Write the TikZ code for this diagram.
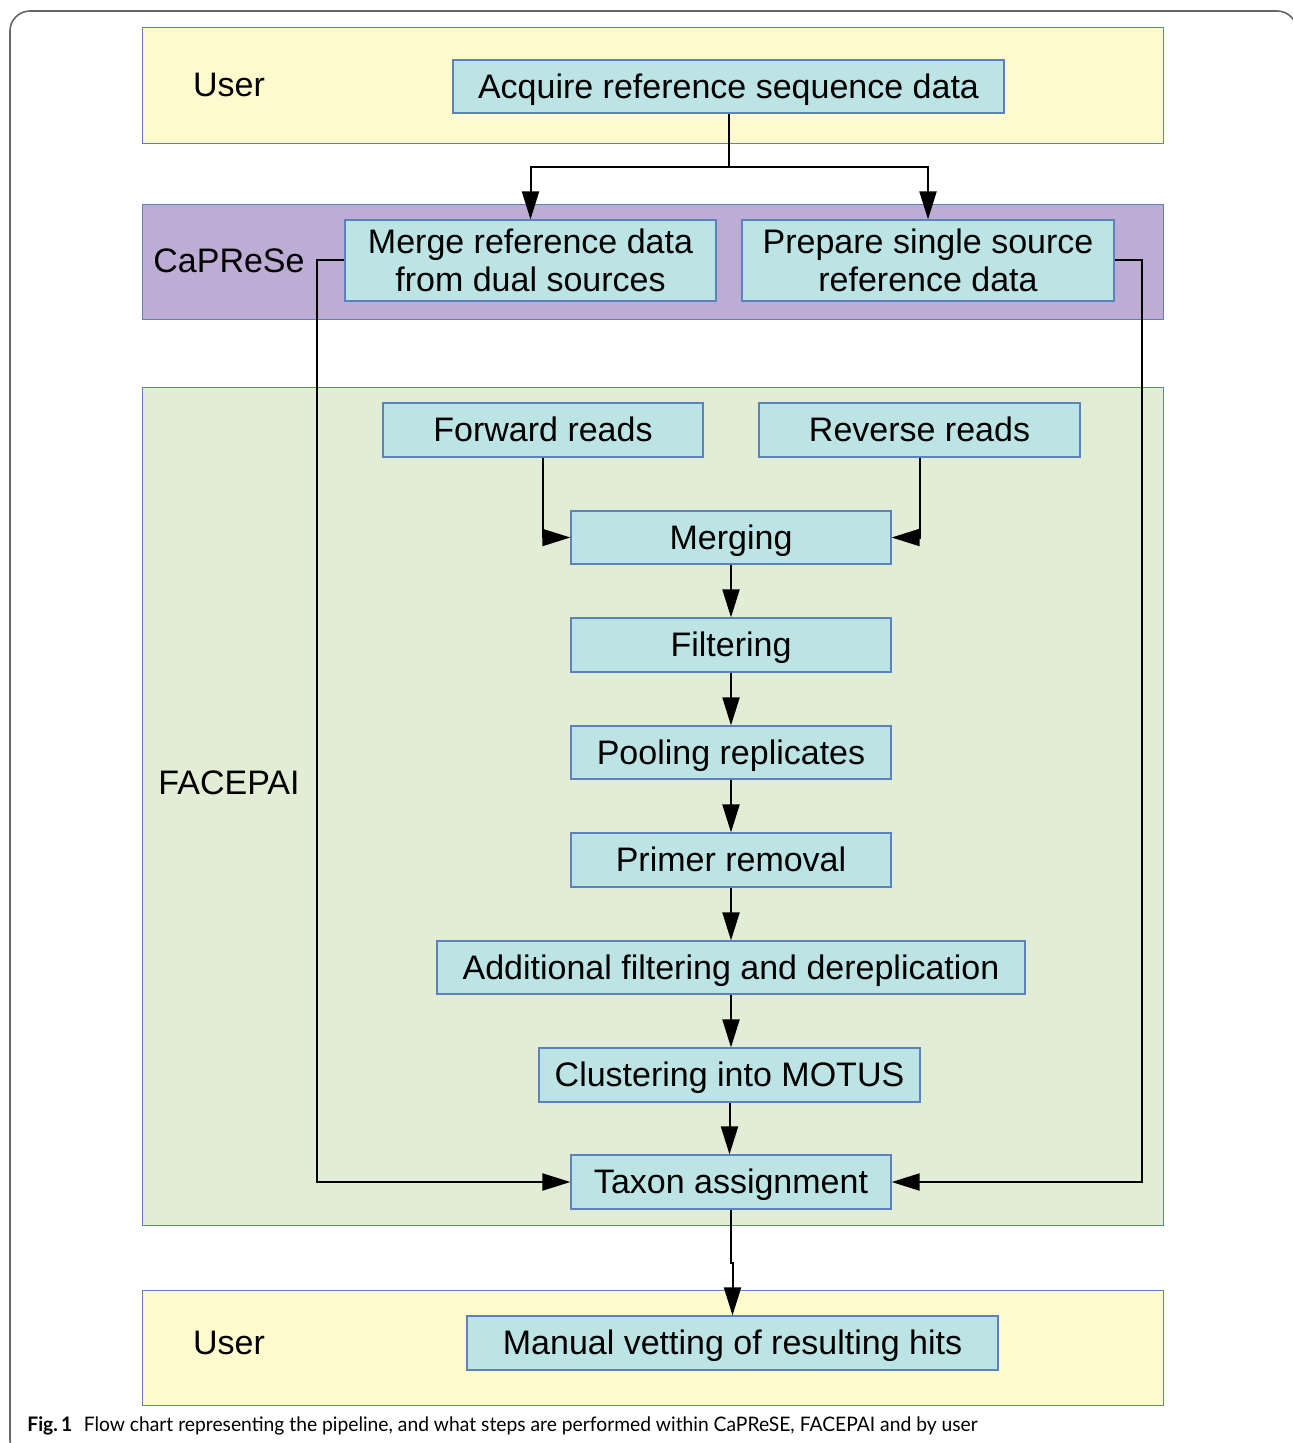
\documentclass[tikz,border=0pt]{standalone}
\usepackage{fontspec}
\setmainfont{Liberation Sans}
\newfontfamily\capfont{Lato}
\usetikzlibrary{arrows.meta}
\definecolor{userfill}{HTML}{FFFACD}
\definecolor{caprfill}{HTML}{BDADD5}
\definecolor{facefill}{HTML}{E1EDD5}
\definecolor{boxfill}{HTML}{BCE4E4}
\definecolor{edgeblue}{HTML}{5B82BE}
\tikzset{
  lane/.style={draw=edgeblue, fill=#1, line width=0.6pt, inner sep=0pt, anchor=north west},
  lanelabel/.style={font=\fontsize{17}{20}\selectfont},
  stepbox/.style={draw=edgeblue, fill=boxfill, line width=0.6pt, inner sep=0pt, align=center,
    font=\fontsize{17}{19}\selectfont},
  oneline/.style={stepbox, text height=15.4pt, text depth=3.6pt},
  flow/.style={line width=1pt, -{Triangle[length=14pt,width=8.5pt]}},
  link/.style={line width=1pt}
}
\begin{document}
\begin{tikzpicture}[x=0.5pt, y=-0.5pt]
    \useasboundingbox[fill=white] (0,0) rectangle (1293,1443);
    \draw[gray!80!black, line width=0.8pt, rounded corners=10] (10,11) rectangle (1297,1460);
    % swim lanes
    \node[lane=userfill, minimum width=510.5pt, minimum height=58pt] (usertop) at (142,27) {};
    \node[lane=caprfill, minimum width=510.5pt, minimum height=57.5pt] (capr) at (142,204) {};
    \node[lane=facefill, minimum width=510.5pt, minimum height=419pt] (face) at (142,387) {};
    \node[lane=userfill, minimum width=510.5pt, minimum height=57.5pt] (userbot) at (142,1290) {};
    \node[lanelabel] (lu1) at (229,85) {User};
    \node[lanelabel] (lc) at (229,261) {CaPReSe};
    \node[lanelabel] (lf) at (229,783) {FACEPAI};
    \node[lanelabel] (lu2) at (229,1343) {User};
    % steps
    \node[oneline, minimum width=275.5pt, minimum height=26.5pt] (acq) at (728.5,86.5) {Acquire reference sequence data};
    \node[stepbox, minimum width=185.5pt, minimum height=40.5pt] (merge) at (530.5,260.5) {Merge reference data\\from dual sources};
    \node[stepbox, minimum width=186pt, minimum height=40.5pt] (prep) at (928,260.5) {Prepare single source\\reference data};
    \node[oneline, minimum width=160pt, minimum height=27pt] (fwd) at (543,430) {Forward reads};
    \node[oneline, minimum width=160.5pt, minimum height=27pt] (rev) at (919.5,430) {Reverse reads};
    \node[oneline, minimum width=160pt, minimum height=26.5pt] (merging) at (731,537.5) {Merging};
    \node[oneline, minimum width=160pt, minimum height=27pt] (filt) at (731,645) {Filtering};
    \node[oneline, minimum width=160pt, minimum height=26.5pt] (pool) at (731,752.5) {Pooling replicates};
    \node[oneline, minimum width=160pt, minimum height=27pt] (primer) at (731,860) {Primer removal};
    \node[oneline, minimum width=294pt, minimum height=26.5pt] (addf) at (731,967.5) {Additional filtering and dereplication};
    \node[oneline, minimum width=190.5pt, minimum height=27pt] (clust) at (729.5,1075) {Clustering into MOTUS};
    \node[oneline, minimum width=160pt, minimum height=27pt] (taxon) at (731,1182) {Taxon assignment};
    \node[oneline, minimum width=265.5pt, minimum height=27pt] (vet) at (732.5,1343) {Manual vetting of resulting hits};
    % connectors
    \draw[flow] (acq.south) -- ++(0,53) -| (merge.north);
    \draw[flow] (acq.south) -- ++(0,53) -| (prep.north);
    \draw[flow] (merge.west) -- ++(-27,0) |- (taxon.west);
    \draw[flow] (prep.east) -- ++(27,0) |- (taxon.east);
    \draw[flow] (fwd.south) |- (merging.west);
    \draw[flow] (rev.south) |- (merging.east);
    \foreach \a/\b in {merging/filt, filt/pool, pool/primer, primer/addf, addf/clust, clust/taxon}
      \draw[flow] (\a.south) -- (\a.south |- \b.north);
    \draw[flow] (taxon.south) -- ++(0,53) -| (vet.north);
    % caption
    \node[anchor=west, inner sep=0pt, font=\capfont\fontsize{10}{12}\selectfont] (cap) at (27,1426)
      {\scalebox{0.963}[1]{\textbf{Fig.\,1}\hspace{0.6em}Flow chart representing the pipeline, and what steps are performed within CaPReSE, FACEPAI and by user}};
\end{tikzpicture}
\end{document}
